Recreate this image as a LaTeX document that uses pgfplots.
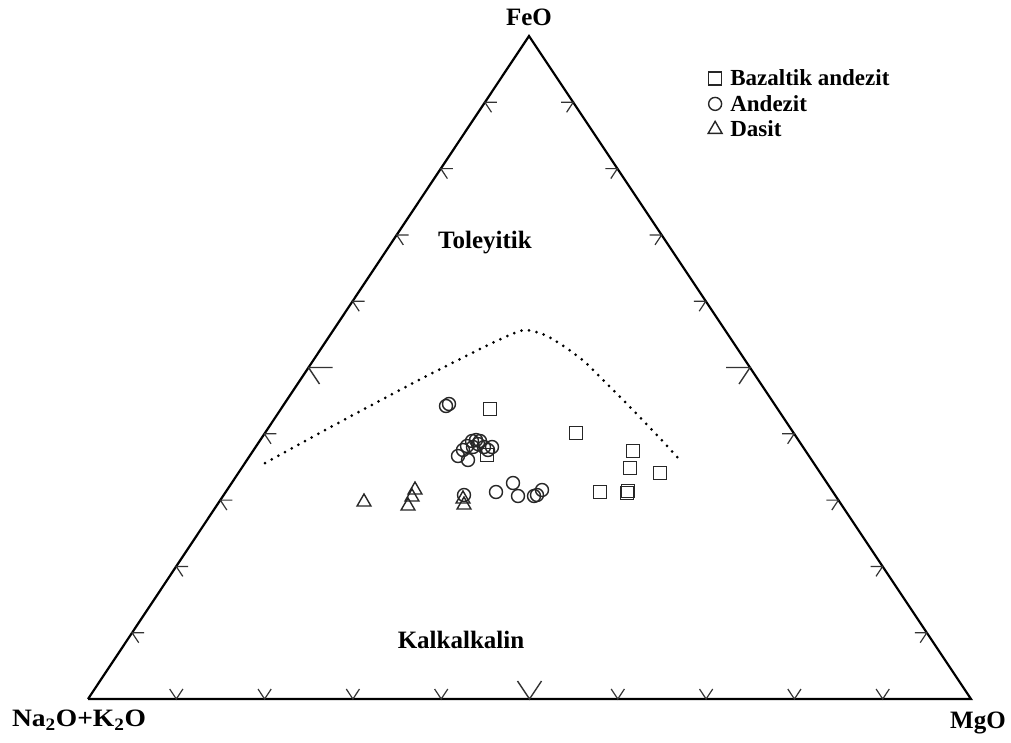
\documentclass[border=0pt]{standalone}
\usepackage{pgfplots}
\pgfplotsset{compat=1.18}
\usepackage{fontspec}
\setmainfont{Liberation Serif}
\begin{document}
\begin{tikzpicture}
\begin{axis}[
  scale only axis, width=1011pt, height=742pt,
  xmin=0, xmax=1011, ymin=0, ymax=742, y dir=reverse,
  hide axis, clip=false,
  legend style={at={(axis cs:708,69)}, anchor=north west, draw=none, fill=none,
    font=\bfseries\fontsize{23}{25}\selectfont, inner sep=0pt, row sep=7pt,
    nodes={inner sep=0.5pt}},
  legend cell align=left,
  myleg/.style={legend image code/.code={\node[draw=none, fill=none, inner sep=0pt, minimum width=21pt, minimum height=1pt, anchor=west] at (0pt,0pt) {}; \draw[##1, only marks] plot coordinates {(7pt,0pt)};}},
]
\path (axis cs:0,0) rectangle (axis cs:1011,742);
% data
\addplot[only marks, myleg, mark=square, mark size=6.5pt, line width=1.4pt, black!85]
 coordinates {(490,409)(576,433)(633,451)(630,468)(660,473)(600,492)(627,493)(628,491)(487,455)};
\addlegendentry{Bazaltik andezit}
\addplot[only marks, myleg, mark=o, mark size=6.5pt, line width=1.4pt, black!85]
 coordinates {(446,406)(449,404)(458,456)(468,460)(463,450)(467,446)(472,441)(476,440)(480,441)(484,447)(488,450)(492,447)(478,444)(473,447)(496,492)(513,483)(518,496)(534,496)(537,495)(542,490)(464,495)};
\addlegendentry{Andezit}
\addplot[only marks, myleg, mark=triangle, mark size=8pt, line width=1.4pt, black!85]
 coordinates {(364,502)(415,490)(412,497)(408,506)(463,499)(464,505)};
\addlegendentry{Dasit}
% triangle frame
\addplot[black, line width=2.2pt, forget plot] coordinates {(88,699)(971,699)(529,36)(88,699)};
% dotted boundary
\addplot[black, line width=3pt, line cap=round, dash pattern=on 0pt off 7.6pt, smooth, tension=0.4, forget plot]
 coordinates {(265,463)(340,422)(417,381)(470,354)(505,337)(525,330)(545,335)(565,347)(585,362)(603,380)(630,407)(655,433)(680,460)};
% ticks
\pgfplotsinvokeforeach{1,2,3,4,6,7,8,9}{
 \draw[black!80, line width=1.2pt] ({axis cs:88+88.3*#1,699}) ++(axis direction cs:6.6,-10) -- ({axis cs:88+88.3*#1,699}) -- ++(axis direction cs:-6.6,-10);
 \draw[black!80, line width=1.2pt] ({axis cs:88+44.1*#1,699-66.3*#1}) ++(axis direction cs:12,0) -- ({axis cs:88+44.1*#1,699-66.3*#1}) -- ++(axis direction cs:6.6,10);
 \draw[black!80, line width=1.2pt] ({axis cs:529+44.2*#1,36+66.3*#1}) ++(axis direction cs:-12,0) -- ({axis cs:529+44.2*#1,36+66.3*#1}) -- ++(axis direction cs:-6.6,10);
}
\draw[black!80, line width=1.4pt] (axis cs:529.5,699) ++(axis direction cs:12,-18) -- (axis cs:529.5,699) -- ++(axis direction cs:-12,-18);
\draw[black!80, line width=1.4pt] (axis cs:308.5,367.5) ++(axis direction cs:24,0) -- (axis cs:308.5,367.5) -- ++(axis direction cs:11,16.5);
\draw[black!80, line width=1.4pt] (axis cs:750,367.5) ++(axis direction cs:-24,0) -- (axis cs:750,367.5) -- ++(axis direction cs:-11,16.5);
% labels
\node[font=\bfseries\fontsize{25}{27}\selectfont] at (axis cs:529,17) {FeO};
\node[font=\bfseries\fontsize{25}{27}\selectfont] at (axis cs:978,723) {MgO};
\node[font=\bfseries\fontsize{25}{27}\selectfont, xscale=1.1] at (axis cs:79,720) {Na\textsubscript{2}O+K\textsubscript{2}O};
\node[font=\bfseries\fontsize{25}{27}\selectfont] at (axis cs:485,243) {Toleyitik};
\node[font=\bfseries\fontsize{25}{27}\selectfont] at (axis cs:461,640) {Kalkalkalin};
\end{axis}
\end{tikzpicture}
\end{document}
